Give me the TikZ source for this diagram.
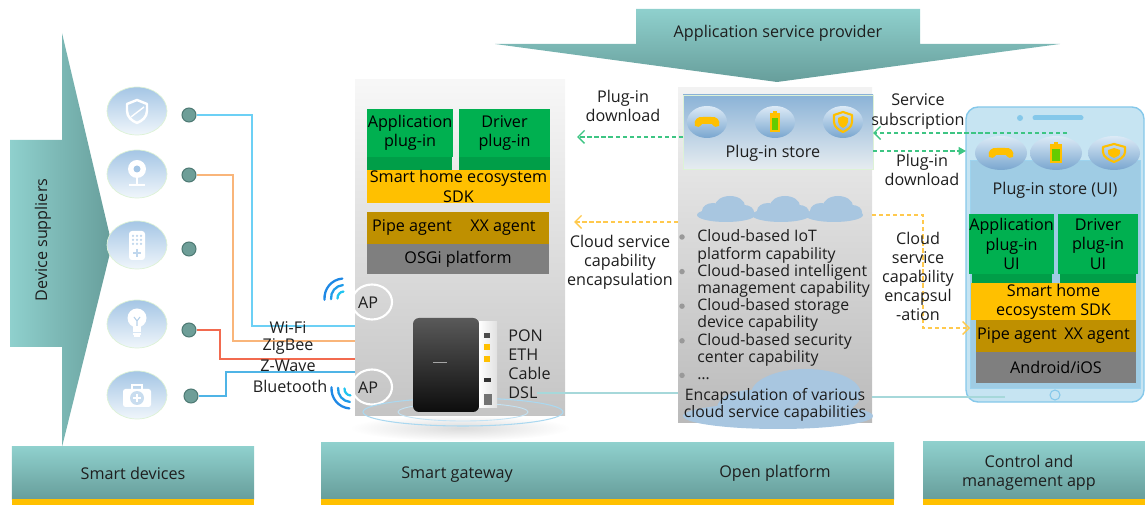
\documentclass[tikz,border=0pt]{standalone}
\usepackage{fontspec}
\setmainfont{Open Sans}
\usetikzlibrary{arrows.meta,shapes.geometric}

\definecolor{tealhi}{HTML}{8FD0CD}
\definecolor{tealdk}{HTML}{679E9B}
\definecolor{plugin}{HTML}{00B050}
\definecolor{plugdk}{HTML}{009E48}
\definecolor{sdk}{HTML}{FFC000}
\definecolor{agent}{HTML}{BF9000}
\definecolor{osgray}{HTML}{7F7F7F}
\definecolor{ink}{HTML}{1E1E1E}
\definecolor{devhi}{HTML}{A5C6E5}
\definecolor{devlo}{HTML}{F0F6FB}
\definecolor{devrim}{HTML}{DDF2D6}
\definecolor{dotc}{HTML}{6E9E98}
\definecolor{dotrim}{HTML}{4E7A74}
\definecolor{wific}{HTML}{6CD0F5}
\definecolor{zigc}{HTML}{F9B57A}
\definecolor{zwavec}{HTML}{F26A4F}
\definecolor{btc}{HTML}{4FB4E6}
\definecolor{gdash}{HTML}{3DC583}
\definecolor{ydash}{HTML}{FFC94D}
\definecolor{storehi}{HTML}{8BB3D7}
\definecolor{storelo}{HTML}{E6ECF0}
\definecolor{glosshi}{HTML}{DCEAF6}
\definecolor{glosslo}{HTML}{79A6CF}
\definecolor{cloudc}{HTML}{A8C6E0}
\definecolor{phonebody}{HTML}{C6E4F2}
\definecolor{phonerim}{HTML}{85C8EA}
\definecolor{phonescr}{HTML}{9FCCE4}
\definecolor{linkc}{HTML}{A6D8DA}
\definecolor{apblue}{HTML}{1E88E5}
\definecolor{apcyan}{HTML}{21C4F0}
\definecolor{batt}{HTML}{66CC00}

\tikzstyle{txt}=[align=center]
\tikzstyle{blk}=[inner sep=0pt,outer sep=0pt,align=center,text=black]
\tikzstyle{plug}=[blk,fill=plugin]
\tikzstyle{sdkb}=[blk,fill=sdk]
\tikzstyle{agt}=[blk,fill=agent]
\tikzstyle{osb}=[blk,fill=osgray]
\tikzstyle{band}=[blk,top color=tealhi,bottom color=tealdk,text=ink]
\tikzstyle{dev}=[ellipse,minimum width=12mm,minimum height=9.6mm,inner sep=0pt,top color=devhi,bottom color=devlo,draw=devrim,line width=0.4pt]
\tikzstyle{dot}=[circle,minimum size=2.8mm,inner sep=0pt,fill=dotc,draw=dotrim,line width=0.6pt]
\tikzstyle{gloss}=[ellipse,inner sep=0pt,top color=glosshi,bottom color=glosslo]
\tikzstyle{apc}=[ellipse,minimum width=8mm,minimum height=7mm,inner sep=0pt,draw=white,line width=1.2pt]
\tikzstyle{gdl}=[draw=gdash,line width=0.8pt,dash pattern=on 2.4pt off 1.6pt]
\tikzstyle{ydl}=[draw=ydash,line width=0.8pt,dash pattern=on 2.4pt off 1.6pt]
\tikzstyle{barb}=[-{Straight Barb[length=1.3mm,width=2.6mm]}]
\tikzstyle{tri}=[-{Triangle[length=1.5mm,width=1.6mm]}]
\tikzstyle{wave}=[line width=1.3pt,line cap=round]
\tikzstyle{lst}=[font=\fontsize{9}{9.8}\selectfont]

\begin{document}
\begin{tikzpicture}[x=0.2mm,y=-0.2mm,font=\fontsize{9.2}{10.9}\selectfont,text=ink,
    every node/.append style={txt}]
\useasboundingbox (0,0) rectangle (1145,505);

% suppliers arrow and provider arrow
\shade[left color=tealhi,right color=tealdk] (10,140) -- (62,140) -- (62,33) -- (112,245)
    -- (62,447) -- (62,347) -- (10,347) -- cycle;
\node[rotate=90] (sup) at (43,240) {Device suppliers};
\shade[top color=tealhi,bottom color=tealdk] (636,9) -- (920,9) -- (920,44) -- (1060,44)
    -- (777,82) -- (495,44) -- (636,44) -- cycle;
\node (asp) at (778,33) {Application service provider};

% smart devices
\node[dev] (dev1) at (137,111) {};
\node[dev] (dev2) at (137,174) {};
\node[dev] (dev3) at (137,245) {};
\node[dev] (dev4) at (137,324) {};
\node[dev] (dev5) at (137,395) {};
\begin{scope}[shift={(dev1)},white,line width=1.4pt,line join=round]
    \draw (0,-11) -- (10,-7) -- (10,0) .. controls (10,6) and (5,10) .. (0,12)
        .. controls (-5,10) and (-10,6) .. (-10,0) -- (-10,-7) -- cycle;
    \draw[line width=0.8pt] (-6,6) -- (7,-4);
\end{scope}
\begin{scope}[shift={(dev2)},white]
    \fill (0,-5) circle (1.8mm);
    \fill[devhi] (0,-5) circle (0.7mm);
    \draw[line width=1.2pt] (0,4) -- (0,10) (-8,11) -- (8,11);
\end{scope}
\begin{scope}[shift={(dev3)}]
    \fill[white,rounded corners=0.6mm] (-8,-14) rectangle (8,15);
    \foreach \i in {-4,0,4} \foreach \j in {-9,-5,-1} \fill[devhi!70] (\i,\j) circle (0.25mm);
    \draw[devhi!70,line width=0.9pt] (-4,8) -- (4,8) (0,4) -- (0,12);
\end{scope}
\begin{scope}[shift={(dev4)},white]
    \fill (0,-6) circle (1.9mm);
    \fill (-4,0) rectangle (4,8);
    \draw[line width=0.8pt] (-4,10) -- (4,10) (-3,12) -- (3,12);
    \draw[devhi!80,line width=0.6pt] (-3,-7) -- (0,-3) -- (3,-7) (0,-3) -- (0,2);
\end{scope}
\begin{scope}[shift={(dev5)},white]
    \draw[line width=1.2pt] (-5,-6) -- (-5,-10) -- (5,-10) -- (5,-6);
    \fill[rounded corners=0.5mm] (-14,-6) rectangle (14,12);
    \fill[devhi!60] (0,3) circle (1.4mm);
    \draw[line width=1.2pt] (-4,3) -- (4,3) (0,-1) -- (0,7);
\end{scope}

\node[dot] (d1) at (189,115) {};
\node[dot] (d2) at (189,175) {};
\node[dot] (d3) at (189,249) {};
\node[dot] (d4) at (189,330) {};
\node[dot] (d5) at (191,396) {};

% gateway panel
\shade[inner color=black!14,outer color=white] (460,428) ellipse [x radius=22mm,y radius=2.6mm];
\node[blk,minimum width=42mm,minimum height=67mm,top color=black!3,bottom color=black!23] (gw) at (460,247.5) {};
\fill[plugdk] (367,157) rectangle (452,170);
\fill[plugdk] (459,157) rectangle (550,170);
\node[plug,minimum width=17.2mm,minimum height=9.6mm] (gapp) at (410,133) {Application\\plug-in};
\node[plug,minimum width=18.2mm,minimum height=9.6mm] (gdrv) at (504.5,133) {Driver\\plug-in};
\node[sdkb,minimum width=36.6mm,minimum height=6.6mm] (gsdk) at (458.5,186.5) {Smart home ecosystem\\SDK};
\node[agt,minimum width=18mm,minimum height=6.4mm] (gpipe) at (412,228) {Pipe agent};
\node[agt,minimum width=18.4mm,minimum height=6.4mm] (gxx) at (503,228) {XX agent};
\node[osb,minimum width=36.4mm,minimum height=6mm] (gos) at (458,259) {OSGi platform};

\node[apc] (ap1) at (372,302) {};
\node[apc] (ap2) at (372,387) {};
\node at (368,303) {AP};
\node at (368,388) {AP};
\foreach \r/\c in {1.3/apcyan,2.6/apblue!70!apcyan,3.9/apblue}
    \draw[wave,\c] (344,298) ++(95:\r mm) arc (95:185:\r mm);
\foreach \r/\c in {1.3/apcyan,2.6/apblue!70!apcyan,3.9/apblue}
    \draw[wave,\c] (351,389) ++(175:\r mm) arc (175:265:\r mm);

% router
\draw[phonerim!70,line width=0.6pt] (463,412) ellipse [x radius=20mm,y radius=2.8mm];
\draw[phonerim!50,line width=0.5pt] (463,412) ellipse [x radius=13mm,y radius=1.8mm];
\shade[rounded corners=1.2mm,top color=black!65,bottom color=black!95] (413,318) rectangle (479,412);
\shade[left color=white,right color=black!12] (479,322) rectangle (497,408);
\fill[black!70] (484,333) rectangle (490,338);
\fill[sdk] (484,344) rectangle (490,350);
\fill[sdk] (484,356) rectangle (490,362);
\fill[black!80] (484,378) rectangle (491,382);
\fill[black!55] (484,394) rectangle (492,405);
\draw[black!35,line width=0.5pt] (433,362) -- (447,362);
\node[anchor=west,align=left,inner sep=0pt] (ports) at (508,364) {PON\\ETH\\Cable\\DSL};
\coordinate (dslR) at (537,393);

% wireless links
\coordinate (wx) at (252,326);
\coordinate (zx) at (233,341);
\coordinate (vx) at (220,359);
\coordinate (bx) at (226,372);
\draw[wific,line width=0.7pt] (d1) -| (wx) -- (gw.west |- wx);
\draw[zigc,line width=0.7pt] (d2) -| (zx) -- (gw.west |- zx);
\draw[zwavec,line width=0.7pt] (d4) -| (vx) -- (gw.west |- vx);
\draw[btc,line width=0.7pt] (d5) -| (bx) -- (gw.west |- bx);
\node (wifi) at (288,328) {Wi-Fi};
\node (zig) at (288,347) {ZigBee};
\node (zw) at (288,366) {Z-Wave};
\node (bt) at (290,386) {Bluetooth};

% open platform
\node[blk,minimum width=38.8mm,minimum height=66.8mm,top color=black!5,bottom color=black!27] (op) at (775,255) {};
\node[blk,minimum width=38mm,minimum height=14.8mm,top color=storehi,bottom color=storelo,draw=devrim] (store) at (778,132) {};
\foreach \x/\n in {707/1,775/2,843/3}
    \node[gloss,minimum width=8mm,minimum height=6.4mm] (s\n) at (\x,122) {};
\node (storet) at (773,153) {Plug-in store};
\foreach \cx in {726,781,834}
    \fill[cloudc] (\cx,215) ellipse [x radius=5.8mm,y radius=1.4mm]
        (\cx+4,206) ellipse [x radius=3mm,y radius=2mm]
        (\cx-13,211) ellipse [x radius=2.2mm,y radius=1.6mm]
        (\cx+18,212) ellipse [x radius=2mm,y radius=1.4mm];
\fill[cloudc] (806,394) ellipse [x radius=11mm,y radius=5mm]
    (752,408) ellipse [x radius=7mm,y radius=3.6mm]
    (778,416) ellipse [x radius=19mm,y radius=2.6mm];
\foreach \y in {237,271.6,306.2,340.8,375.4}
    \fill[black!40] (682,\y) circle (0.55mm);
\node[lst,anchor=north west,align=left,inner sep=0pt] (caps) at (697,229.5) {Cloud-based IoT\\platform capability\\Cloud-based intelligent\\management capability\\Cloud-based storage\\device capability\\Cloud-based security\\center capability\\\ldots};
\node[lst] (encap) at (775,405) {Encapsulation of various\\cloud service capabilities};

% store icons
\begin{scope}[shift={(s1)}]
    \fill[sdk] (-12,4) .. controls (-14,-2) and (-9,-6) .. (-4,-5) -- (4,-5)
        .. controls (9,-6) and (14,-2) .. (12,4) .. controls (10,6) and (7,5) .. (5,2)
        -- (-5,2) .. controls (-7,5) and (-10,6) .. (-12,4) -- cycle;
\end{scope}
\begin{scope}[shift={(s2)}]
    \fill[sdk] (-2,-11) rectangle (2,-9);
    \fill[sdk] (-5,-9) rectangle (5,10);
    \fill[batt] (-3,-4) rectangle (3,8);
\end{scope}
\begin{scope}[shift={(s3)}]
    \draw[sdk,line width=1.2pt,line join=round] (0,-10) -- (9,-7) -- (9,0) .. controls (9,5) and (4,8) .. (0,10)
        .. controls (-4,8) and (-9,5) .. (-9,0) -- (-9,-7) -- cycle;
    \fill[sdk] (0,-6) -- (5,-4) -- (5,0) .. controls (5,3) and (2,5) .. (0,6)
        .. controls (-2,5) and (-5,3) .. (-5,0) -- (-5,-4) -- cycle;
\end{scope}

\node (pdl) at (623,106) {Plug-in\\download};
\node (cse) at (620,262) {Cloud service\\capability\\encapsulation};
\coordinate (gwIn1) at (577,137);
\coordinate (gwIn2) at (574,222);
\draw[gdl,barb] (store.west |- gwIn1) -- (gwIn1);
\draw[ydl,barb] (op.west |- gwIn2) -- (gwIn2);
\draw[linkc,line width=0.7pt] (dslR) -- (op.west |- dslR);

% control and management app
\node[blk,rounded corners=2.4mm,minimum width=35.6mm,minimum height=59mm,fill=phonebody,draw=phonerim,line width=0.8pt] (ph) at (1055,254.5) {};
\fill[phonerim] (1020,118) circle (0.6mm);
\draw[phonerim,line width=1mm,line cap=round] (1035,118) -- (1081,118);
\node[blk,minimum width=34mm,minimum height=45.6mm,fill=phonescr,draw=phonerim!80] (scr) at (1055,274) {};
\draw[phonerim,fill=phonebody,line width=0.6pt] (1055,395) circle (1mm);
\foreach \x/\n in {1001/1,1056/2,1114/3}
    \node[gloss,minimum width=10.4mm,minimum height=6.8mm] (u\n) at (\x,153) {};
\begin{scope}[shift={(u1)}]
    \fill[sdk] (-12,4) .. controls (-14,-2) and (-9,-6) .. (-4,-5) -- (4,-5)
        .. controls (9,-6) and (14,-2) .. (12,4) .. controls (10,6) and (7,5) .. (5,2)
        -- (-5,2) .. controls (-7,5) and (-10,6) .. (-12,4) -- cycle;
\end{scope}
\begin{scope}[shift={(u2)}]
    \fill[sdk] (-2,-11) rectangle (2,-9);
    \fill[sdk] (-6,-9) rectangle (6,10);
    \fill[batt] (-4,-4) rectangle (4,8);
\end{scope}
\begin{scope}[shift={(u3)}]
    \draw[sdk,line width=1.2pt,line join=round] (0,-9) -- (11,-6) -- (11,-1) .. controls (11,4) and (5,7) .. (0,9)
        .. controls (-5,7) and (-11,4) .. (-11,-1) -- (-11,-6) -- cycle;
    \fill[sdk] (0,-5) -- (6,-3) -- (6,0) .. controls (6,2) and (3,4) .. (0,5)
        .. controls (-3,4) and (-6,2) .. (-6,0) -- (-6,-3) -- cycle;
\end{scope}
\node (uistore) at (1055,190) {Plug-in store (UI)};
\fill[plugdk] (972,274) rectangle (1052,283);
\fill[plugdk] (1060,274) rectangle (1136,283);
\node[plug,minimum width=16.6mm,minimum height=12mm] (papp) at (1011.5,244) {Application\\plug-in\\UI};
\node[plug,minimum width=16mm,minimum height=12mm] (pdrv) at (1098,244) {Driver\\plug-in\\UI};
\node[sdkb,minimum width=33mm,minimum height=7.4mm] (psdk) at (1053.5,301.5) {Smart home\\ecosystem SDK};
\node[agt,minimum width=16.4mm,minimum height=6.4mm] (ppipe) at (1017,336) {Pipe agent};
\node[agt,minimum width=15.6mm,minimum height=6.4mm] (pxx) at (1097,336) {XX agent};
\node[osb,minimum width=32mm,minimum height=6.2mm] (pos) at (1056,367.5) {Android/iOS};

\coordinate (subIn) at (1067,133);
\coordinate (ybend) at (923,328);
\coordinate (yend) at (970,328);
\coordinate (homeL) at (1005,397);
\draw[gdl,barb] (subIn) -- (store.east |- subIn);
\draw[gdl,tri] (store.east |- 0,151) -- (ph.west |- 0,151);
\draw[ydl,barb] (op.east |- 0,215) -| (ybend) -- (yend);
\draw[linkc,line width=0.7pt] (op.east |- homeL) -- (homeL);
\node (ssub) at (918,111.5) {Service\\subscription};
\node (pdr) at (922,170) {Plug-in\\download};
\node (csr) at (918,276.5) {Cloud\\service\\capability\\encapsul\\-ation};

% layer bars
\node[band,minimum width=48.4mm,minimum height=10.4mm] (barD) at (133,473) {Smart devices};
\node[band,minimum width=114.6mm,minimum height=11.2mm] (barG) at (607.5,471) {};
\node[band,minimum width=44.4mm,minimum height=11.4mm] (barA) at (1034,470.5) {};
\fill[sdk] (barD.south west) rectangle ([yshift=-1.3mm]barD.south east);
\fill[sdk] (barG.south west) rectangle ([yshift=-1.3mm]barG.south east);
\fill[sdk] (barA.south west) rectangle ([yshift=-1.3mm]barA.south east);
\node (sgw) at (457,475) {Smart gateway};
\node (opf) at (775,473) {Open platform};
\node (cma) at (1029,473) {Control and\\management app};
\end{tikzpicture}
\end{document}
